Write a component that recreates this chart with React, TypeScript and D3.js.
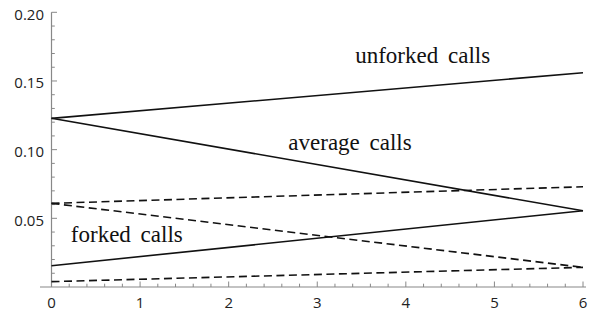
import React from "react";
import * as d3 from "d3";

const xTicks = [0, 1, 2, 3, 4, 5, 6];
const yTicks = [0.05, 0.1, 0.15, 0.2];
const yTickLabels = ["0.05", "0.10", "0.15", "0.20"];

const seriesNames = ["unforked", "average", "forked", "unforkedDashed", "averageDashed", "forkedDashed"];
const seriesStart = [0.1228, 0.1228, 0.0155, 0.0609, 0.0609, 0.0039];
const seriesEnd = [0.156, 0.0555, 0.0555, 0.073, 0.0143, 0.0143];
const seriesDashed = [false, false, false, true, true, true];

const labels = ["unforked calls", "average calls", "forked calls"];
const labelX = [4.19, 3.37, 0.85];
const labelY = [0.163, 0.1, 0.0325];

export default function App() {
  const W = 597, H = 312;
  const x = d3.scaleLinear().domain([0, 6]).range([51.5, 583]);
  const y = d3.scaleLinear().domain([0, 0.2]).range([287, 12.3]);
  const line = d3.line<[number, number]>().x(d => x(d[0])).y(d => y(d[1]));
  const axisColor = "#888";
  const xMinor = d3.range(0, 6.0001, 0.2).filter(v => Math.abs(v - Math.round(v)) > 1e-6);
  const yMinor = d3.range(0, 0.2001, 0.01).filter(v => Math.abs(v / 0.05 - Math.round(v / 0.05)) > 1e-6);
  const tickFont = "'Open Sans', 'DejaVu Sans', sans-serif";
  return (
    <svg width={W} height={H} style={{ position: "absolute", left: 0, top: 0, background: "#fff" }}>
      {/* axes */}
      <line x1={40} x2={586} y1={y(0)} y2={y(0)} stroke={axisColor} strokeWidth={1.2} />
      <line x1={x(0)} x2={x(0)} y1={y(0)} y2={y(0.2)} stroke={axisColor} strokeWidth={1.2} />
      {xTicks.map(t => (
        <g key={"xt" + t}>
          <line x1={x(t)} x2={x(t)} y1={y(0)} y2={y(0) - 5.5} stroke={axisColor} strokeWidth={1} />
          <text x={x(t)} y={308} textAnchor="middle" fontFamily={tickFont} fontSize={15} fill="#222">{t}</text>
        </g>
      ))}
      {xMinor.map((t, i) => (
        <line key={"xm" + i} x1={x(t)} x2={x(t)} y1={y(0)} y2={y(0) - 3.3} stroke={axisColor} strokeWidth={1} />
      ))}
      {yTicks.map((t, i) => (
        <g key={"yt" + t}>
          <line x1={x(0)} x2={x(0) + 5.5} y1={y(t)} y2={y(t)} stroke={axisColor} strokeWidth={1} />
          <text x={44} y={y(t) + 2} dy="0.35em" textAnchor="end" fontFamily={tickFont} fontSize={15} fill="#222">{yTickLabels[i]}</text>
        </g>
      ))}
      {yMinor.map((t, i) => (
        <line key={"ym" + i} x1={x(0)} x2={x(0) + 3.3} y1={y(t)} y2={y(t)} stroke={axisColor} strokeWidth={1} />
      ))}
      {/* series */}
      {seriesNames.map((n, i) => (
        <path
          key={n}
          d={line([[0, seriesStart[i]], [6, seriesEnd[i]]]) || ""}
          fill="none"
          stroke="#111"
          strokeWidth={1.6}
          strokeDasharray={seriesDashed[i] ? "8,4.5" : undefined}
        />
      ))}
      {labels.map((l, i) => (
        <text
          key={l}
          x={x(labelX[i])}
          y={y(labelY[i])}
          textAnchor="middle"
          fontFamily="'Liberation Serif', 'Times New Roman', serif"
          fontSize={23}
          wordSpacing={4}
          fill="#111"
        >{l}</text>
      ))}
    </svg>
  );
}
